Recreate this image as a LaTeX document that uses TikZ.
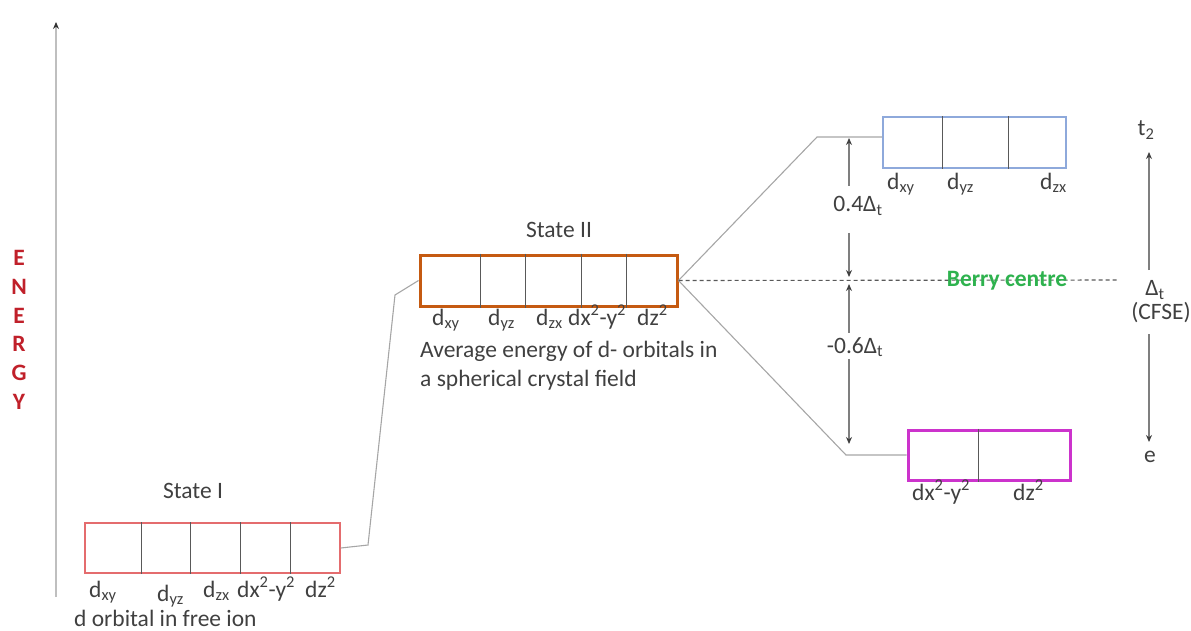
\documentclass[tikz,border=0pt]{standalone}
\usepackage{fontspec}
\setmainfont{Carlito}
\usetikzlibrary{calc,arrows.meta}

\definecolor{txt}{HTML}{404040}
\definecolor{axisgrey}{HTML}{BFBFBF}
\definecolor{linegrey}{HTML}{A6A6A6}
\definecolor{arrgrey}{HTML}{7F7F7F}
\definecolor{divgrey}{HTML}{595959}
\definecolor{freered}{HTML}{E46C6E}
\definecolor{sphorange}{HTML}{C55A11}
\definecolor{tblue}{HTML}{8EA9DB}
\definecolor{emag}{HTML}{CC33CC}
\definecolor{berry}{HTML}{2EB24E}
\definecolor{energyred}{HTML}{C0202A}

\newcommand\lblfont{\fontsize{23.5}{28.7}\selectfont}

\begin{document}
\begin{tikzpicture}[x=1pt,y=-1pt,
  lbl/.style={text=txt,font=\lblfont,inner sep=0pt},
  orbl/.style={lbl,anchor=base west},
  lvlbox/.style={draw,inner sep=0pt,fill=white},
  divider/.style={draw=divgrey,line width=0.8pt},
  conn/.style={draw=linegrey,line width=1.1pt},
  tipped/.style={draw=arrgrey,line width=1.1pt,-{Stealth[length=7pt,width=6pt,color=black!75]}},
]
\useasboundingbox (0,0) rectangle (1191,630);

% energy axis
\coordinate (ax0) at (56,597);
\coordinate (ax1) at (56,22);
\draw[draw=axisgrey,line width=2pt,-{Stealth[length=7pt,width=6pt,color=black!80]}] (ax0) -- (ax1);
\node[font=\lblfont\bfseries,text=energyred,align=center,inner sep=0pt] (energy) at (19,330)
  {E\\N\\E\\R\\G\\Y};

% state I: five degenerate orbitals of the free ion
\node[lvlbox,draw=freered,line width=1.5pt,minimum width=255pt,minimum height=50pt] (s1) at (212.5,548) {};
\foreach \dx in {57,106,156,206}
  \draw[divider] ($(s1.north west)+(\dx,0)$) -- ($(s1.south west)+(\dx,0)$);
\node[lbl,anchor=base] (s1title) at (193,498) {State I};
\node[orbl] (s1a) at (89,597) {d\textsubscript{xy}};
\node[orbl] (s1b) at (157,601) {d\textsubscript{yz}};
\node[orbl] (s1c) at (203,597) {d\textsubscript{zx}};
\node[orbl] (s1d) at (237,597) {dx\textsuperscript{2}-y\textsuperscript{2}};
\node[orbl] (s1e) at (305,597) {dz\textsuperscript{2}};
\node[orbl] (s1note) at (74,626) {d orbital in free ion};

% state II: raised but still degenerate in a spherical field
\node[lvlbox,draw=sphorange,line width=3pt,minimum width=257pt,minimum height=51pt] (s2) at (548.5,280.5) {};
\foreach \dx in {62,107,163,208}
  \draw[divider] ($(s2.north west)+(\dx,0)$) -- ($(s2.south west)+(\dx,0)$);
\node[lbl,anchor=base] (s2title) at (559,237) {State II};
\node[orbl] (s2a) at (432,325) {d\textsubscript{xy}};
\node[orbl] (s2b) at (488,325) {d\textsubscript{yz}};
\node[orbl] (s2c) at (536,325) {d\textsubscript{zx}};
\node[orbl] (s2d) at (568,325) {dx\textsuperscript{2}-y\textsuperscript{2}};
\node[orbl] (s2e) at (637,325) {dz\textsuperscript{2}};
\node[orbl] (s2note1) at (420,357) {Average energy of d- orbitals in};
\node[orbl] (s2note2) at (420,386) {a spherical crystal field};

% split levels
\node[lvlbox,draw=tblue,line width=2pt,minimum width=183pt,minimum height=51pt] (t2box) at (974.5,142.5) {};
\foreach \dx in {60,126}
  \draw[divider] ($(t2box.north west)+(\dx,0)$) -- ($(t2box.south west)+(\dx,0)$);
\node[orbl] (t2a) at (887,189) {d\textsubscript{xy}};
\node[orbl] (t2b) at (947,189) {d\textsubscript{yz}};
\node[orbl] (t2c) at (1040,189) {d\textsubscript{zx}};

\node[lvlbox,draw=emag,line width=3pt,minimum width=162pt,minimum height=50pt] (ebox) at (989,455) {};
\draw[divider] ($(ebox.north west)+(72,0)$) -- ($(ebox.south west)+(72,0)$);
\node[orbl] (ea) at (912,500) {dx\textsuperscript{2}-y\textsuperscript{2}};
\node[orbl] (eb) at (1013,500) {dz\textsuperscript{2}};

% correlation lines
\coordinate (k1) at (368,545);
\coordinate (k2) at (395,295);
\draw[conn] (s1.east) -- (k1) -- (k2) -- (s2.west);
\coordinate (t2L) at (817,137);
\coordinate (eL) at (846,455);
\draw[conn] (s2.east) -- (t2L) -- (t2L -| t2box.west);
\draw[conn] (s2.east) -- (eL) -- (ebox.west);

% barycentre
\coordinate (dashend) at (1117,280);
\draw[draw=divgrey,line width=1.1pt,dash pattern=on 4pt off 3pt] (s2.east) -- (dashend);
\node[font=\lblfont\bfseries,text=berry,inner sep=0pt] (berry) at (1007,281) {Berry centre};

% splitting measured from the barycentre
\coordinate (t2y) at (849,137);
\coordinate (by) at (849,280);
\coordinate (ey) at (849,455);
\node[lbl] (q04) at (858,206) {0.4Δ\textsubscript{t}};
\node[lbl] (q06) at (855,347) {-0.6Δ\textsubscript{t}};
\draw[tipped] ($(t2y)!0.34!(by)$) -- ($(t2y)+(0,1)$);
\draw[tipped] ($(t2y)!0.67!(by)$) -- ($(by)+(0,-3)$);
\draw[tipped] ($(by)!0.3!(ey)$) -- ($(by)+(0,4)$);
\draw[tipped] ($(by)!0.45!(ey)$) -- ($(ey)+(0,-11)$);

% overall splitting on the right
\node[lbl] (t2lab) at (1146,130) {t\textsubscript{2}};
\node[lbl] (dlab) at (1155,290) {Δ\textsubscript{t}};
\node[lbl] (cfse) at (1161,313) {(CFSE)};
\node[lbl] (elab) at (1150,457) {e};
\coordinate (r1) at (1149,270);
\coordinate (r2) at (1149,152);
\coordinate (r3) at (1149,334);
\coordinate (r4) at (1149,442);
\draw[tipped] (r1) -- (r2);
\draw[tipped] (r3) -- (r4);
\end{tikzpicture}
\end{document}
